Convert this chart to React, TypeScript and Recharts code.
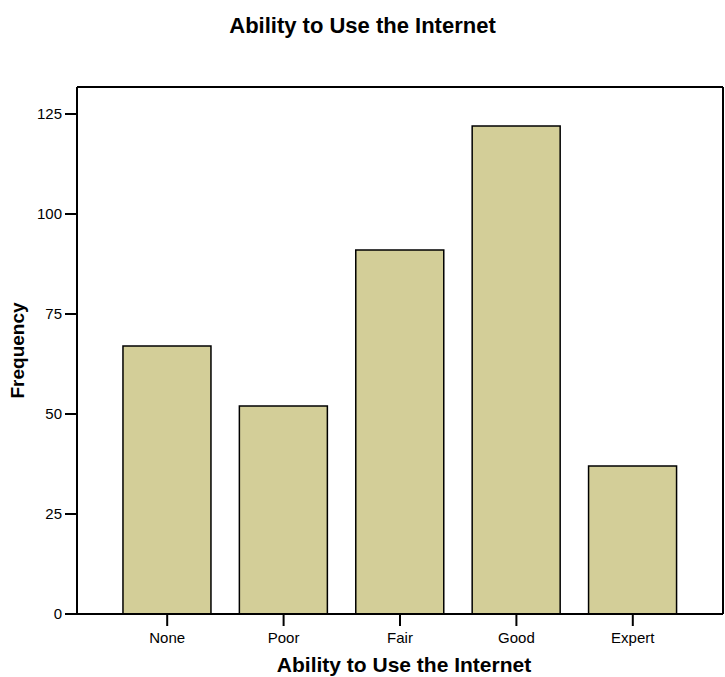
import { BarChart, Bar, XAxis, YAxis } from 'recharts';

const categories = ['None', 'Poor', 'Fair', 'Good', 'Expert'];
const frequencies = [67, 52, 91, 122, 37];
const yTicks = [0, 25, 50, 75, 100, 125];

const chartData = categories.map((name, i) => ({ name, value: frequencies[i] }));

const font = 'Arial, "Liberation Sans", Helvetica, sans-serif';

// vertical axis title
const YTitle = ({ viewBox }: any) => (
  <text
    x={0}
    y={0}
    transform={`translate(${viewBox.x + 24}, ${viewBox.y + viewBox.height / 2}) rotate(-90)`}
    textAnchor="middle"
    fontFamily={font}
    fontWeight="bold"
    fontSize={19}
    fill="#000"
  >
    Frequency
  </text>
);

// horizontal axis title
const XTitle = ({ viewBox }: any) => (
  <text
    x={viewBox.x + viewBox.width / 2 + 4}
    y={viewBox.y + 58}
    textAnchor="middle"
    fontFamily={font}
    fontWeight="bold"
    fontSize={21}
    fill="#000"
  >
    Ability to Use the Internet
  </text>
);

export default function App() {
  return (
    <div style={{ position: 'absolute', left: 0, top: 0, width: 725, height: 677, background: '#fff' }}>
      <div
        style={{
          position: 'absolute',
          left: 0,
          top: 13,
          width: 725,
          textAlign: 'center',
          fontFamily: font,
          fontWeight: 'bold',
          fontSize: 22,
          color: '#000',
        }}
      >
        Ability to Use the Internet
      </div>
      <BarChart
        width={725}
        height={677}
        data={chartData}
        margin={{ top: 86, right: 1, left: 0, bottom: 0 }}
        barCategoryGap="12%"
      >
        <XAxis
          dataKey="name"
          height={63}
          padding={{ left: 32, right: 32 }}
          tickSize={12}
          tickMargin={6}
          tick={{ fontSize: 15, fill: '#000', fontFamily: font }}
          axisLine={{ stroke: '#000', strokeWidth: 2 }}
          tickLine={{ stroke: '#000', strokeWidth: 2 }}
          label={<XTitle />}
        />
        <XAxis
          xAxisId="top"
          dataKey="name"
          orientation="top"
          height={1}
          tick={false}
          tickLine={false}
          axisLine={{ stroke: '#000', strokeWidth: 2 }}
        />
        <YAxis
          width={77}
          domain={[0, 131.75]}
          ticks={yTicks}
          allowDataOverflow
          tickSize={12}
          tickMargin={3}
          tick={{ fontSize: 15, fill: '#000', fontFamily: font }}
          axisLine={{ stroke: '#000', strokeWidth: 2 }}
          tickLine={{ stroke: '#000', strokeWidth: 2 }}
          label={<YTitle />}
        />
        <YAxis
          yAxisId="right"
          orientation="right"
          width={1}
          domain={[0, 131.75]}
          tick={false}
          tickLine={false}
          axisLine={{ stroke: '#000', strokeWidth: 2 }}
        />
        <Bar dataKey="value" fill="#d3ce98" stroke="#000" strokeWidth={1.5} isAnimationActive={false} />
      </BarChart>
    </div>
  );
}
